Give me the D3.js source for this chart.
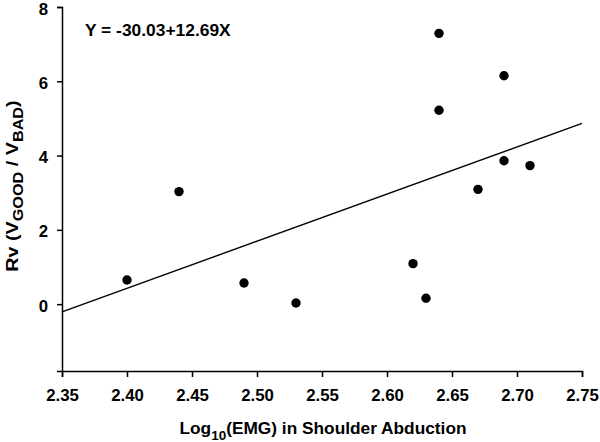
<!DOCTYPE html>
<html>
<head>
<meta charset="utf-8">
<script src="https://cdn.jsdelivr.net/npm/d3@7"></script>
<style>
  html, body { margin: 0; padding: 0; background: #fff; }
  svg { display: block; }
  text { font-family: "Liberation Sans", Arial, Helvetica, sans-serif; font-weight: bold; fill: #000; }
</style>
</head>
<body>
<svg id="chart" width="600" height="442"></svg>
<script>
// Data
const xValues = [2.40, 2.44, 2.49, 2.53, 2.62, 2.63, 2.64, 2.64, 2.67, 2.69, 2.69, 2.71];
const yValues = [0.65, 3.03, 0.57, 0.03, 1.09, 0.16, 7.29, 5.22, 3.09, 6.15, 3.86, 3.73];
const xTicks = [2.35, 2.40, 2.45, 2.50, 2.55, 2.60, 2.65, 2.70, 2.75];
const yTicks = [0, 2, 4, 6, 8];
const intercept = -30.03;
const slope = 12.69;
const equationLabel = "Y = -30.03+12.69X";

(function () {
const svg = d3.select("#chart");
const mLeft = 62, mRight = 582, mTop = 7, mBottom = 371;

const x = d3.scaleLinear().domain([2.35, 2.75]).range([mLeft, mRight]);
const y = d3.scaleLinear().domain([-1.8, 8]).range([mBottom, mTop]);

// X axis
const xAxis = svg.append("g")
  .attr("transform", `translate(0,${mBottom})`)
  .call(d3.axisBottom(x).tickValues(xTicks).tickFormat(d3.format(".2f")).tickSizeOuter(0).tickSize(6).tickPadding(12));
xAxis.select(".domain").attr("stroke", "#000").attr("stroke-width", 1.5);
xAxis.selectAll(".tick line").attr("stroke", "#000").attr("stroke-width", 1.5);
xAxis.selectAll(".tick text").attr("font-size", 16.8).attr("font-family", null);

// Y axis
const yAxis = svg.append("g")
  .attr("transform", `translate(${mLeft},0)`)
  .call(d3.axisLeft(y).tickValues(yTicks).tickFormat(d3.format("d")).tickSizeOuter(0).tickSize(5).tickPadding(9));
yAxis.select(".domain").attr("stroke", "#000").attr("stroke-width", 1.5);
yAxis.selectAll(".tick line").attr("stroke", "#000").attr("stroke-width", 1.5);
yAxis.selectAll(".tick text").attr("font-size", 16.8).attr("font-family", null).attr("dy", "0.42em");

// Regression line
const lineData = x.domain().map(v => ({ x: v, y: intercept + slope * v }));
svg.append("path")
  .datum(lineData)
  .attr("fill", "none")
  .attr("stroke", "#000")
  .attr("stroke-width", 1.4)
  .attr("d", d3.line().x(d => x(d.x)).y(d => y(d.y)));

// Points
svg.append("g").selectAll("circle")
  .data(xValues.map((v, i) => ({ x: v, y: yValues[i] })))
  .join("circle")
  .attr("cx", d => x(d.x))
  .attr("cy", d => y(d.y))
  .attr("r", 4.7)
  .attr("fill", "#000");

// Equation
svg.append("text")
  .attr("x", 85)
  .attr("y", 36)
  .attr("font-size", 17.4)
  .text(equationLabel);

// X axis title
const xt = svg.append("text")
  .attr("x", 323)
  .attr("y", 434)
  .attr("text-anchor", "middle")
  .attr("font-size", 17.3);
xt.append("tspan").text("Log");
xt.append("tspan").attr("dy", 6).attr("font-size", 13.5).text("10");
xt.append("tspan").attr("dy", -6).text("(EMG) in Shoulder Abduction");

// Y axis title
const yt = svg.append("text")
  .attr("transform", `translate(18,186) rotate(-90) scale(1.16,1)`)
  .attr("text-anchor", "middle")
  .attr("font-size", 17);
yt.append("tspan").text("Rv (V");
yt.append("tspan").attr("dy", 5).attr("font-size", 14).text("GOOD");
yt.append("tspan").attr("dy", -5).text(" / V");
yt.append("tspan").attr("dy", 5).attr("font-size", 14).text("BAD");
yt.append("tspan").attr("dy", -5).text(")");
})();
</script>
</body>
</html>
